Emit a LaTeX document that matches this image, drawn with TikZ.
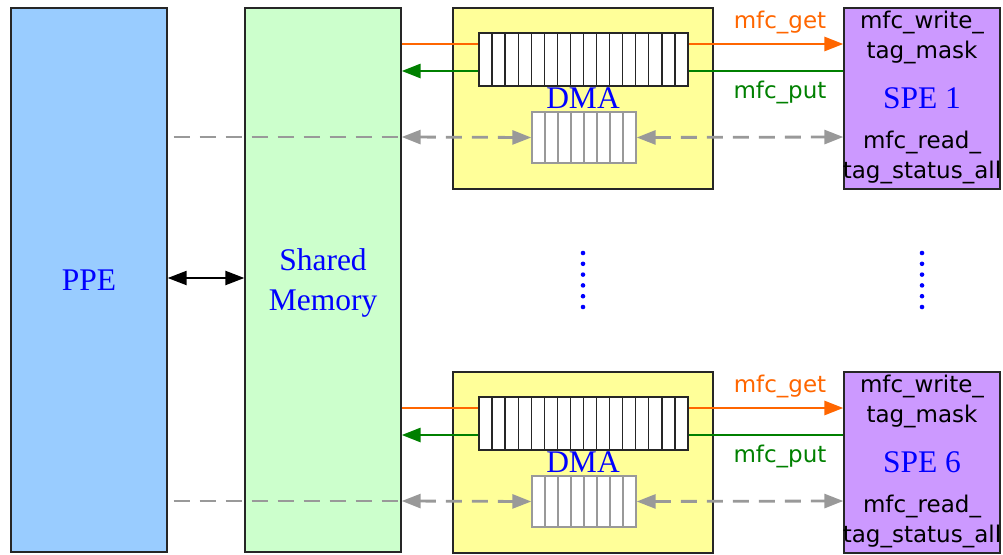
\documentclass[tikz,border=0pt]{standalone}
\usepackage{fontspec}
\setmainfont{Liberation Serif}
\setsansfont{DejaVu Sans}
\usetikzlibrary{arrows.meta}
\definecolor{ppeblue}{HTML}{99CCFF}
\definecolor{memgreen}{HTML}{CCFFCC}
\definecolor{dmayellow}{HTML}{FFFF99}
\definecolor{spepurple}{HTML}{CC99FF}
\definecolor{getorange}{HTML}{FF6600}
\definecolor{putgreen}{HTML}{008000}
\definecolor{taggray}{HTML}{999999}
\definecolor{labelblue}{HTML}{0000FF}
\tikzset{
  unitbox/.style={draw=black!85,line width=1.3pt,inner sep=0pt},
  bigtext/.style={font=\fontsize{31.5}{40}\selectfont,text=labelblue,align=center,inner sep=0pt},
  smalltext/.style={font=\sffamily\fontsize{23}{30}\selectfont,align=center,inner sep=0pt},
  getline/.style={getorange,line width=2.8pt},
  putline/.style={putgreen,line width=2.8pt},
  tagline/.style={taggray,line width=2.8pt,dash pattern=on 16pt off 10pt},
  headone/.style={-{Triangle[length=19pt,width=14pt]}},
  headtwo/.style={{Triangle[length=19pt,width=14pt]}-{Triangle[length=19pt,width=14pt]}}
}
\begin{document}
\begin{tikzpicture}[x=1pt,y=-1pt]
  \useasboundingbox (0,0) rectangle (1003,554);
  \node[unitbox,fill=ppeblue,minimum width=156pt,minimum height=544pt] (ppe) at (89,280) {};
  \node[bigtext] (ppelabel) at (ppe) {PPE};
  \node[unitbox,fill=memgreen,minimum width=156pt,minimum height=544pt] (mem) at (323,280) {};
  \node[bigtext] (memlabel) at (323,283) {Shared\\Memory};
  \draw[black,line width=2.2pt,headtwo] (ppe.east |- 0,278) -- (mem.west |- 0,278);
  \foreach \off/\n in {0/1,364/6} {
    \node[unitbox,fill=dmayellow,minimum width=260pt,minimum height=181pt] (dma\n) at (583,98.5+\off) {};
    \node[unitbox,fill=spepurple,minimum width=156pt,minimum height=181pt] (spe\n) at (922,98.5+\off) {};
    \coordinate (get\n) at (0,44+\off);
    \coordinate (put\n) at (0,71+\off);
    \coordinate (tag\n) at (0,137+\off);
    \node[unitbox,fill=white,minimum width=209pt,minimum height=53pt] (bigq\n) at (583.5,59.5+\off) {};
    \foreach \k in {1,...,15}
      \draw[black!85,line width=1.3pt] (479+\k*13.0625,33+\off) -- ++(0,53);
    \node[unitbox,draw=taggray,fill=white,minimum width=104pt,minimum height=51pt] (smallq\n) at (584,137.5+\off) {};
    \foreach \k in {1,...,7}
      \draw[taggray,line width=1.3pt] (532+\k*13,112+\off) -- ++(0,51);
    \node[bigtext] (dmalabel\n) at (583,98+\off) {DMA};
    \draw[getline] (mem.east |- get\n) -- (bigq\n.west |- get\n);
    \draw[getline,headone] (bigq\n.east |- get\n) -- (spe\n.west |- get\n);
    \draw[putline] (spe\n.west |- put\n) -- (bigq\n.east |- put\n);
    \draw[putline,headone] (bigq\n.west |- put\n) -- (mem.east |- put\n);
    \draw[tagline] ([xshift=6pt]ppe.east |- tag\n) -- (mem.east |- tag\n);
    \draw[tagline,headtwo] (mem.east |- tag\n) -- (smallq\n.west);
    \draw[tagline,headtwo] (smallq\n.east) -- (spe\n.west |- tag\n);
    \node[smalltext,text=getorange] (getlabel\n) at (780,22+\off) {mfc\_get};
    \node[smalltext,text=putgreen] (putlabel\n) at (780,92+\off) {mfc\_put};
    \node[smalltext] (writelabel\n) at (922,37+\off) {mfc\_write\_\\tag\_mask};
    \node[bigtext] (spelabel\n) at (922,98+\off) {SPE \n};
    \node[smalltext] (readlabel\n) at (922,157+\off) {mfc\_read\_\\tag\_status\_all};
  }
  \foreach \x in {583,922}
    \foreach \y in {253,263.8,...,308}
      \fill[labelblue] (\x,\y) circle (2.3pt);
\end{tikzpicture}
\end{document}
